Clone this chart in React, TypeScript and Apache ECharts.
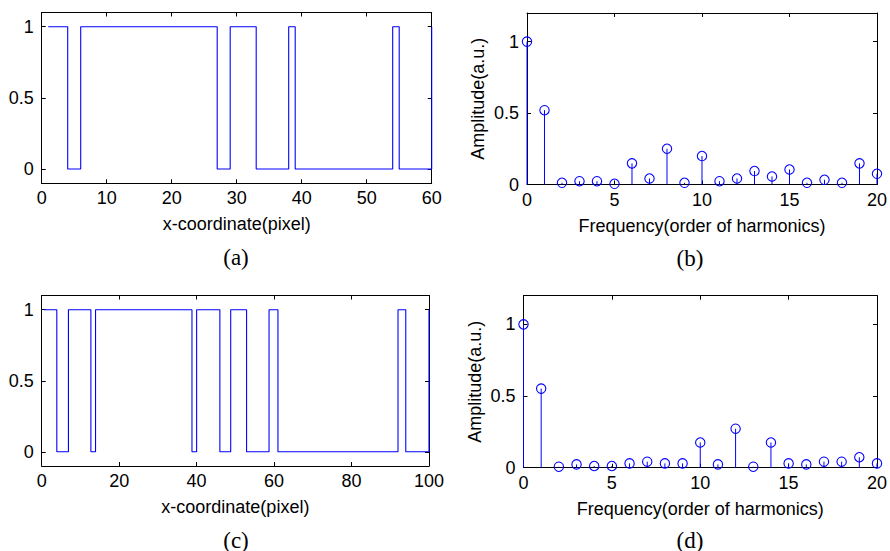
import React, { useEffect, useRef } from "react";
import * as echarts from "echarts";

// Panel (a): binary signal sampled at x = 1..60 (stairs)
const aSignal = [
  1, 1, 1, 0, 0,
  1, 1, 1, 1, 1, 1, 1, 1, 1, 1, 1, 1, 1, 1, 1, 1, 1, 1, 1, 1, 1,
  0, 0,
  1, 1, 1, 1,
  0, 0, 0, 0, 0,
  1,
  0, 0, 0, 0, 0, 0, 0, 0, 0, 0, 0, 0, 0, 0, 0,
  1,
  0, 0, 0, 0, 0,
  1,
];

// Panel (c): binary signal as edge positions and levels
const cEdges = [0.6, 3.9, 6.9, 12.7, 13.9, 38.8, 40, 46, 48.8, 52.9, 58.7, 61, 92, 94, 100];
const cLevels = [1, 0, 1, 0, 1, 0, 1, 0, 1, 0, 1, 0, 1, 0, 1];

// Harmonic orders 0..20
const harmonics = [0, 1, 2, 3, 4, 5, 6, 7, 8, 9, 10, 11, 12, 13, 14, 15, 16, 17, 18, 19, 20];
// Panel (b) amplitudes
const bAmp = [1.0, 0.52, 0.012, 0.023, 0.023, 0.005, 0.148, 0.042, 0.25, 0.012, 0.199, 0.023, 0.042, 0.094, 0.056, 0.105, 0.012, 0.033, 0.012, 0.148, 0.075];
// Panel (d) amplitudes
const dAmp = [1.0, 0.552, 0.007, 0.023, 0.012, 0.012, 0.03, 0.042, 0.03, 0.03, 0.176, 0.023, 0.272, 0.007, 0.176, 0.03, 0.023, 0.042, 0.042, 0.073, 0.03];

const signalYTicks = [0, 0.5, 1];
const ampYTicks = [0, 0.5, 1];

const xNameSignal = "x-coordinate(pixel)";
const xNameFreq = "Frequency(order of harmonics)";
const yNameAmp = "Amplitude(a.u.)";
const panelLabels = ["(a)", "(b)", "(c)", "(d)"];

const BLUE = "#0000ff";
const INK = "#000000";
const SANS = "'Liberation Sans', Arial, Helvetica, sans-serif";
const SERIF = "'Liberation Serif', 'Times New Roman', serif";

function xAxes(grid: number, min: number, max: number, interval: number, name: string) {
  const line = { show: true, onZero: false, lineStyle: { color: "#000", width: 1 } };
  return [
    {
      type: "value", gridIndex: grid, position: "bottom", min, max, interval,
      name, nameLocation: "middle", nameGap: 32,
      nameTextStyle: { fontFamily: SANS, fontSize: 18, color: INK },
      axisLine: line,
      axisTick: { show: true, inside: true, length: 4, lineStyle: { color: "#000" } },
      axisLabel: { show: true, margin: 6, fontFamily: SANS, fontSize: 18, color: INK },
      splitLine: { show: false },
    },
    {
      type: "value", gridIndex: grid, position: "top", min, max, interval,
      axisLine: line,
      axisTick: { show: true, inside: true, length: 4, lineStyle: { color: "#000" } },
      axisLabel: { show: false },
      splitLine: { show: false },
    },
  ];
}

function yAxes(grid: number, min: number, max: number, ticks: number[], name: string) {
  const line = { show: true, onZero: false, lineStyle: { color: "#000", width: 1 } };
  return [
    {
      type: "value", gridIndex: grid, position: "left", min, max,
      name, nameLocation: "middle", nameGap: 40,
      nameTextStyle: { fontFamily: SANS, fontSize: 18, color: INK },
      axisLine: line,
      axisTick: { show: true, inside: true, length: 4, customValues: ticks, lineStyle: { color: "#000" } },
      axisLabel: {
        show: true, margin: 8, fontFamily: SANS, fontSize: 18, color: INK, customValues: ticks,
        formatter: (v: number) => String(v),
      },
      splitLine: { show: false },
    },
    {
      type: "value", gridIndex: grid, position: "right", min, max,
      axisLine: line,
      axisTick: { show: true, inside: true, length: 4, customValues: ticks, lineStyle: { color: "#000" } },
      axisLabel: { show: false },
      splitLine: { show: false },
    },
  ];
}

function stemSeries(xAxisIndex: number, yAxisIndex: number, xs: number[], ys: number[]) {
  return {
    type: "custom",
    xAxisIndex, yAxisIndex,
    clip: false,
    data: xs.map((x, i) => [x, ys[i]]),
    renderItem: (params: any, api: any) => {
      const x = api.value(0);
      const y = api.value(1);
      const p0 = api.coord([x, 0]);
      const p1 = api.coord([x, y]);
      return {
        type: "group",
        children: [
          { type: "line", shape: { x1: p0[0], y1: p0[1], x2: p1[0], y2: p1[1] }, style: { stroke: BLUE, lineWidth: 1 } },
          { type: "circle", shape: { cx: p1[0], cy: p1[1], r: 4.7 }, style: { fill: "none", stroke: BLUE, lineWidth: 1.1 } },
        ],
      };
    },
  };
}

export default function App() {
  const ref = useRef<HTMLDivElement>(null);
  useEffect(() => {
    if (!ref.current) return;
    const chart = echarts.init(ref.current, null, { renderer: "svg" });
    const labelStyle = (t: string) => ({ text: t, font: `23px ${SERIF}`, fill: INK, align: "center", verticalAlign: "middle" });
    const option: any = {
      animation: false,
      backgroundColor: "#ffffff",
      grid: [
        { left: 41.7, top: 12.5, width: 390, height: 170.8 },
        { left: 527, top: 13, width: 355, height: 171.5 },
        { left: 41.7, top: 295.5, width: 387.3, height: 170.5 },
        { left: 523.5, top: 295.7, width: 355.5, height: 172 },
      ],
      xAxis: [
        ...xAxes(0, 0, 60, 10, xNameSignal),
        ...xAxes(1, 0, 20, 5, xNameFreq),
        ...xAxes(2, 0, 100, 20, xNameSignal),
        ...xAxes(3, 0, 20, 5, xNameFreq),
      ],
      yAxis: [
        ...yAxes(0, -0.1, 1.1, signalYTicks, ""),
        ...yAxes(1, 0, 1.2, ampYTicks, yNameAmp),
        ...yAxes(2, -0.1, 1.1, signalYTicks, ""),
        ...yAxes(3, 0, 1.2, ampYTicks, yNameAmp),
      ],
      series: [
        {
          type: "line", xAxisIndex: 0, yAxisIndex: 0, step: "end", showSymbol: false, symbol: "none",
          data: aSignal.map((v, i) => [i + 1, v]),
          lineStyle: { color: BLUE, width: 1.1 },
        },
        stemSeries(2, 2, harmonics, bAmp),
        {
          type: "line", xAxisIndex: 4, yAxisIndex: 4, step: "end", showSymbol: false, symbol: "none",
          data: cEdges.map((x, i) => [x, cLevels[i]]),
          lineStyle: { color: BLUE, width: 1.1 },
        },
        stemSeries(6, 6, harmonics, dAmp),
      ],
      graphic: [
        { type: "text", x: 236, y: 257, style: labelStyle(panelLabels[0]) },
        { type: "text", x: 690, y: 258, style: labelStyle(panelLabels[1]) },
        { type: "text", x: 236, y: 540, style: labelStyle(panelLabels[2]) },
        { type: "text", x: 690, y: 540, style: labelStyle(panelLabels[3]) },
      ],
    };
    chart.setOption(option);
    return () => chart.dispose();
  }, []);
  return (
    <div
      ref={ref}
      style={{ position: "fixed", left: 0, top: 0, width: 890, height: 551, background: "#fff" }}
    />
  );
}
